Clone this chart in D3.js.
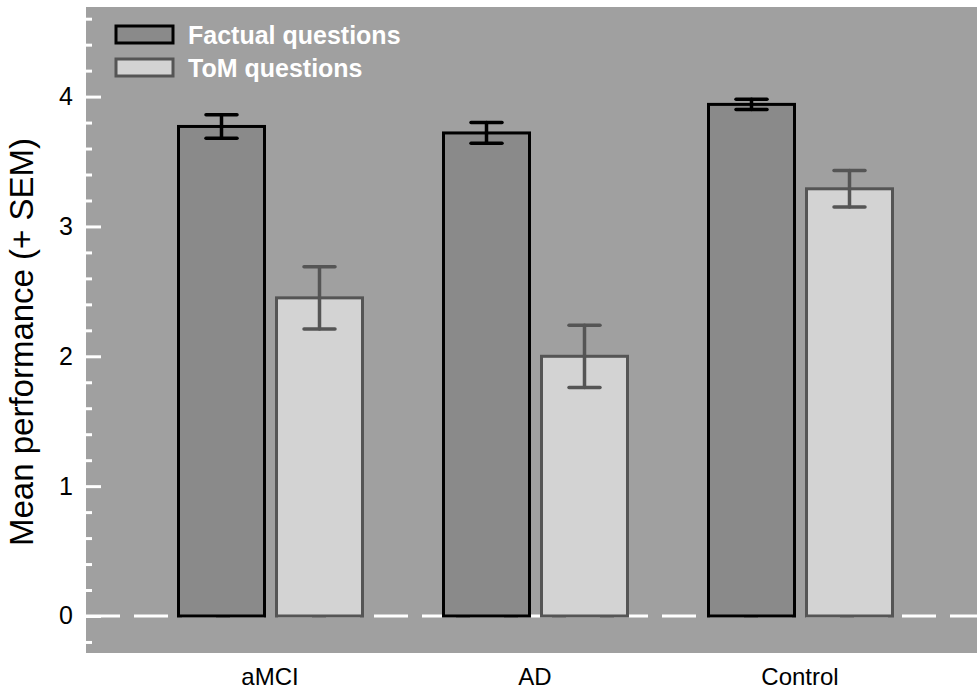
<!DOCTYPE html>
<html>
<head>
<meta charset="utf-8">
<script src="https://cdn.jsdelivr.net/npm/d3@7"></script>
<style>
  html, body { margin: 0; padding: 0; background: #fff; }
  svg { display: block; font-family: "Liberation Sans", Arial, sans-serif; }
</style>
</head>
<body>
<svg id="chart" width="977" height="692"></svg>
<script>
// ---- data ----
const categories = ["aMCI", "AD", "Control"];
const seriesNames = ["Factual questions", "ToM questions"];
const factualMeans = [3.77, 3.72, 3.94];
const factualSEM   = [0.09, 0.08, 0.04];
const tomMeans     = [2.45, 2.00, 3.29];
const tomSEM       = [0.24, 0.24, 0.14];
const majorTicks   = [0, 1, 2, 3, 4];
const minorTicks   = [-0.2, 0.2, 0.4, 0.6, 0.8, 1.2, 1.4, 1.6, 1.8, 2.2, 2.4, 2.6, 2.8,
                      3.2, 3.4, 3.6, 3.8, 4.2, 4.4, 4.6];
const yLabel = "Mean performance (+ SEM)";

// ---- styles ----
const fills   = { "Factual questions": "#8a8a8a", "ToM questions": "#d3d3d3" };
const strokes = { "Factual questions": "#000000", "ToM questions": "#555555" };

const svg = d3.select("#chart");
const plot = { left: 86, top: 7, right: 977, bottom: 653 };

svg.append("rect")
  .attr("x", plot.left).attr("y", plot.top)
  .attr("width", plot.right - plot.left).attr("height", plot.bottom - plot.top)
  .attr("fill", "#a0a0a0");

const y = d3.scaleLinear().domain([-0.285, 4.69]).range([plot.bottom, plot.top]);

const x0 = d3.scaleBand().domain(categories)
  .range([137.5, 932.5]).paddingInner(79 / 265).paddingOuter(79 / 530);
const x1 = d3.scaleBand().domain(seriesNames)
  .range([0, x0.bandwidth() + 1]).paddingInner(9 / 98);

// zero dashed line
svg.append("line")
  .attr("x1", plot.left).attr("x2", plot.right)
  .attr("y1", y(0)).attr("y2", y(0))
  .attr("stroke", "#ffffff").attr("stroke-width", 3)
  .attr("stroke-dasharray", "34,14");

// axes
const majorAxis = d3.axisLeft(y).tickValues(majorTicks).tickSizeInner(-15).tickSizeOuter(0)
  .tickPadding(13).tickFormat(d3.format("d"));
const gMaj = svg.append("g").attr("transform", `translate(${plot.left},0)`).call(majorAxis);
gMaj.select(".domain").remove();
gMaj.selectAll(".tick line").attr("stroke", "#ffffff").attr("stroke-width", 3);
gMaj.selectAll(".tick text").attr("fill", "#000").style("font-size", "25px")
  .style("font-family", "Liberation Sans, Arial, sans-serif");

const minorAxis = d3.axisLeft(y).tickValues(minorTicks).tickSizeInner(-6).tickSizeOuter(0)
  .tickFormat("");
const gMin = svg.append("g").attr("transform", `translate(${plot.left},0)`).call(minorAxis);
gMin.select(".domain").remove();
gMin.selectAll(".tick line").attr("stroke", "#ffffff").attr("stroke-width", 3);

// bars
const rows = categories.map((c, i) => ({
  cat: c,
  vals: [
    { s: seriesNames[0], v: factualMeans[i], e: factualSEM[i] },
    { s: seriesNames[1], v: tomMeans[i], e: tomSEM[i] }
  ]
}));

const groups = svg.append("g").selectAll("g").data(rows).join("g")
  .attr("transform", d => `translate(${x0(d.cat)},0)`);

groups.selectAll("rect").data(d => d.vals).join("rect")
  .attr("x", d => x1(d.s) + 1.5)
  .attr("width", x1.bandwidth() - 3)
  .attr("y", d => y(d.v))
  .attr("height", d => y(0) - y(d.v))
  .attr("fill", d => fills[d.s])
  .attr("stroke", d => strokes[d.s])
  .attr("stroke-width", 3);

const capW = 31;
const eb = groups.selectAll("g.err").data(d => d.vals).join("g").attr("class", "err")
  .attr("stroke", d => strokes[d.s]).attr("stroke-width", 3.5).attr("stroke-linecap", "round");
eb.append("line")
  .attr("x1", d => x1(d.s) + x1.bandwidth() / 2).attr("x2", d => x1(d.s) + x1.bandwidth() / 2)
  .attr("y1", d => y(d.v + d.e)).attr("y2", d => y(d.v - d.e));
eb.append("line")
  .attr("x1", d => x1(d.s) + x1.bandwidth() / 2 - capW / 2)
  .attr("x2", d => x1(d.s) + x1.bandwidth() / 2 + capW / 2)
  .attr("y1", d => y(d.v + d.e)).attr("y2", d => y(d.v + d.e));
eb.append("line")
  .attr("x1", d => x1(d.s) + x1.bandwidth() / 2 - capW / 2)
  .attr("x2", d => x1(d.s) + x1.bandwidth() / 2 + capW / 2)
  .attr("y1", d => y(d.v - d.e)).attr("y2", d => y(d.v - d.e));

// category labels
svg.append("g").selectAll("text").data(categories).join("text")
  .attr("x", d => x0(d) + x0.bandwidth() / 2)
  .attr("y", 685)
  .attr("text-anchor", "middle")
  .attr("fill", "#000")
  .style("font-size", "24px")
  .text(d => d);

// y label
svg.append("text")
  .attr("transform", `translate(33,342) rotate(-90)`)
  .attr("text-anchor", "middle")
  .attr("fill", "#000")
  .style("font-size", "33px")
  .text(yLabel);

// legend
const leg = svg.append("g").selectAll("g").data(seriesNames).join("g")
  .attr("transform", (d, i) => `translate(116,${26 + i * 33})`);
leg.append("rect")
  .attr("width", 57).attr("height", 17)
  .attr("fill", d => fills[d]).attr("stroke", d => strokes[d]).attr("stroke-width", 3);
leg.append("text")
  .attr("x", 72).attr("y", 18)
  .attr("fill", "#ffffff")
  .style("font-size", "25px").style("font-weight", "bold")
  .text(d => d);
</script>
</body>
</html>
